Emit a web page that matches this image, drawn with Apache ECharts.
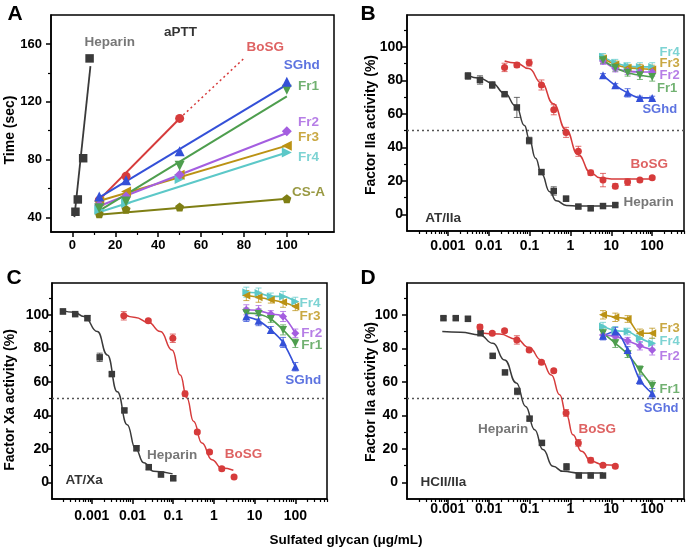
<!DOCTYPE html>
<html><head><meta charset="utf-8">
<script src="https://cdn.jsdelivr.net/npm/echarts@6/dist/echarts.min.js"></script>
<style>html,body{margin:0;padding:0;background:#fff}#c{width:688px;height:549px}</style>
</head><body><div id="c"></div>
<script>
// ---------- Panel A : aPTT ----------
const aConc = [12.5, 25, 50, 100];
const aHepConc = [1.4, 2.5, 5, 8];
const aHepTime = [44, 52.5, 81, 150];
const aBoSGConc = [12.5, 25, 50];
const aBoSGTime = [52, 68.5, 108.5];
const aSGhdTime = [54.5, 65.8, 85.8, 133.8];
const aFr1Time = [46.5, 51, 75.8, 128.4];
const aFr2Time = [48.8, 54.5, 69.6, 99.6];
const aFr3Time = [51.1, 58, 69.6, 89.7];
const aFr4Time = [45.3, 50, 66.6, 85];
const aCSATime = [42.6, 45.8, 47.2, 52.9];
// linear fits (start / end)
const aFitConc = [12, 100];
const aHepFitConc = [0.9, 8.4];
const aHepFit = [40.3, 144.6];
const aBoSGFitConc = [12, 50];
const aBoSGFit = [51.5, 108.5];
const aBoSGExtConc = [50, 80];
const aBoSGExt = [108.5, 150];
const aSGhdFit = [53.4, 131.9];
const aFr1Fit = [44.2, 123.8];
const aFr2Fit = [47.6, 98.4];
const aFr3Fit = [51.2, 89.7];
const aFr4Fit = [43.5, 85];
const aCSAFit = [42, 53];
const aXTicks = [0, 20, 40, 60, 80, 100];
const aYTicks = [40, 80, 120, 160];

// ---------- shared ----------
const fracConc = [6.25, 12.5, 25, 50, 100];
const logTicks = [0.001, 0.01, 0.1, 1, 10, 100];
const pctTicks = [0, 20, 40, 60, 80, 100];

// ---------- Panel B : AT/IIa ----------
const bHepConc = [0.0031,0.0061,0.0122,0.0244,0.0488,0.0977,0.195,0.39,0.78,1.56,3.125,6.25,12.5];
const bHepAct  = [82.6,80.2,77.2,71.7,63.8,44,25.2,13.9,9.3,4.6,3.6,4.9,5.5];
const bHepErr  = [2,2.5,2,1,6,2,1.5,2.5,1.5,1,1.5,1,1];
const bBoSGConc = [0.0244,0.0488,0.0977,0.195,0.39,0.78,1.56,3.125,6.25,12.5,25,50,100];
const bBoSGAct  = [87.7,89.1,90.5,77.2,62.4,48.9,37.6,24.8,20.4,16.8,19.2,20.4,21.8];
const bBoSGErr  = [2.5,1.5,2,3,3,3,3,1.5,4,1.5,2,1,1];
const bSGhdAct = [83,77,72.5,69.5,69.5];
const bFr1Act  = [92,87.5,84.5,83,82];
const bFr2Act  = [91.5,87,85.5,85,85];
const bFr3Act  = [93,89.5,87.5,87,86.5];
const bFr4Act  = [94,90.5,88.5,88,88];
const bSGhdErr = [1,1,2.5,1,1];
const bFrErr   = [2,2,2,2.5,2.5];
const bHepFitConc = [0.0031,0.006,0.0122,0.024,0.047,0.075,0.098,0.14,0.197,0.31,0.45,0.79,1.6,12.6];
const bHepFitAct  = [82.8,81.3,78.3,72.5,64.5,53,45,33.5,24,13.5,8,5.3,4.9,4.9];
const bBoSGFitConc = [0.0245,0.0474,0.096,0.194,0.38,0.776,1.53,3.12,5.2,12.5,100];
const bBoSGFitAct  = [91.5,90.3,87,78.5,66,50.5,35.7,24.8,21.8,21,21];

// ---------- Panel C : AT/Xa ----------
const cHepConc = [0.000195,0.00039,0.00078,0.00156,0.0031,0.0063,0.0125,0.025,0.05,0.1];
const cHepAct  = [102,100.4,98,74.6,64.6,42.9,20.3,9,4.6,2.4];
const cHepErr  = [1.5,1,1.5,2.5,1,1,1.5,1.5,1,1.5];
const cBoSGConc = [0.0061,0.0244,0.0977,0.195,0.39,0.78,1.56,3.125];
const cBoSGAct  = [99.4,96.4,86,52.9,30,18,8,3.2];
const cBoSGErr  = [2.5,1,2.5,1.5,1,1,1,1];
const cSGhdAct = [99,96.5,91,83.5,69];
const cFr1Act  = [101,100.5,97.5,91,83];
const cFr2Act  = [103,102.5,100.5,99,89];
const cFr3Act  = [111.5,110.5,109,107.5,105];
const cFr4Act  = [113.5,113,111,111,108];
const cFrErr   = [3,3,2,3,2.5];
const cHepFitConc = [0.000191,0.000367,0.000644,0.00137,0.0024,0.00422,0.0074,0.0118,0.0189,0.0332,0.0966];
const cHepFitAct  = [102.5,101.5,99,90,76,54,34.4,20,11.6,6.6,5];
const cBoSGFitConc = [0.00593,0.0118,0.0242,0.0484,0.0935,0.149,0.217,0.315,0.506,0.889,1.56,3.0];
const cBoSGFitAct  = [100.5,98.4,95.5,90,79,64,50.3,36.4,23.5,13.5,8.5,7.2];

// ---------- Panel D : HCII/IIa ----------
const dHepConc = [0.00078,0.00156,0.0031,0.0063,0.0125,0.025,0.05,0.1,0.2,0.8,1.6,3.125,6.25];
const dHepAct  = [98,98,97.6,89,75.5,65.6,54.3,38,23.5,9.2,4,4,4];
const dHepErr  = [1,1,1.5,1,1,1,2,1,1,2,1,1,1];
const dBoSGConc = [0.0061,0.0122,0.0244,0.0488,0.0977,0.195,0.39,0.78,1.56,3.125,6.25,12.5];
const dBoSGAct  = [92.7,89,90.5,85,79,71.6,66.6,41.4,23.5,13.1,10.1,9.5];
const dBoSGErr  = [1.5,1,1,2.5,1,1,1,2,2,1.5,1,1];
const dSGhdAct = [87.5,90,79,61,53];
const dFr1Act  = [89,83,76.5,67,57.5];
const dFr2Act  = [88,87,84.5,81.5,79];
const dFr3Act  = [100,98.5,97.5,89,89];
const dFr4Act  = [93,90.5,90,86,83];
const dFrErr   = [2.5,2.5,2,2.5,3];
const dHepFitConc = [0.00073,0.00205,0.006,0.0127,0.0245,0.0474,0.08,0.133,0.212,0.373,0.655,1.68,6.25];
const dHepFitAct  = [90,89.6,88,83,73,59.3,45.3,31.4,19.5,9.5,6.5,5.5,5.5];
const dBoSGFitConc = [0.00575,0.0185,0.0474,0.0964,0.194,0.341,0.544,0.794,1.15,1.85,3.25,6.25,12.8];
const dBoSGFitAct  = [89.3,88.5,85.5,80.5,73,64,52.3,40.5,28.4,18.5,12.5,10.5,10.1];

// ---------- styling ----------
const FONT = '"Liberation Sans", Arial, Helvetica, sans-serif';
const C = {hep:'#3a3a3a', hepTxt:'#555555', bosg:'#d63b3b', sghd:'#3450d8', fr1:'#4e9e4e',
           fr2:'#a45ee0', fr3:'#bb9214', fr4:'#5cc8c8', csa:'#7f7f14'};
const PENT = 'path://M0,-10L9.51,-3.09L5.88,8.09L-5.88,8.09L-9.51,-3.09Z';

const pts = (xs, ys) => xs.map((x, i) => [x, ys[i]]);
function logFmt(v) {
  const e = Math.round(Math.log10(v));
  return e >= 0 ? String(Math.round(Math.pow(10, e))) : '0.' + '0'.repeat(-e - 1) + '1';
}
function mainAxis(gi, type, min, max, pos, majors, fs, margin, fmt) {
  const ax = {type, gridIndex: gi, min, max, position: pos,
    axisLine: {show: true, onZero: false, lineStyle: {color: '#000', width: 1.5}},
    axisTick: {show: true, inside: false, length: 5, customValues: majors, lineStyle: {color: '#000', width: 1.5}},
    axisLabel: {show: true, customValues: majors, margin, color: '#000', fontWeight: 'bold', fontSize: fs, fontFamily: FONT},
    splitLine: {show: false}};
  if (type === 'log') ax.logBase = 10;
  if (fmt) ax.axisLabel.formatter = fmt;
  return ax;
}
function minorAxis(gi, type, min, max, pos, minors) {
  const ax = {type, gridIndex: gi, min, max, position: pos,
    axisLine: {show: false, onZero: false},
    axisTick: {show: true, inside: false, length: 3, customValues: minors, lineStyle: {color: '#000', width: 1.2}},
    axisLabel: {show: false}, splitLine: {show: false}};
  if (type === 'log') ax.logBase = 10;
  return ax;
}
const logMinors = [];
for (let e = -4; e <= 2; e++) for (let m = 2; m <= 9; m++) logMinors.push(+(m * Math.pow(10, e)).toPrecision(3));
const pctMinors = [10, 30, 50, 70, 90, 110];

const LOGMIN = [null, 0.0001, 0.000105, 0.0001];
const xAxes = [
  mainAxis(0, 'value', -10, 122, 'bottom', aXTicks, 13, 7),
  mainAxis(1, 'log', LOGMIN[1], 600, 'bottom', logTicks, 14, 8, logFmt),
  mainAxis(2, 'log', LOGMIN[2], 600, 'bottom', logTicks, 14, 10, logFmt),
  mainAxis(3, 'log', LOGMIN[3], 600, 'bottom', logTicks, 14, 3, logFmt),
  minorAxis(0, 'value', -10, 122, 'bottom', [10, 30, 50, 70, 90, 110]),
  minorAxis(1, 'log', LOGMIN[1], 600, 'bottom', logMinors),
  minorAxis(2, 'log', LOGMIN[2], 600, 'bottom', logMinors),
  minorAxis(3, 'log', LOGMIN[3], 600, 'bottom', logMinors)
];
const yAxes = [
  mainAxis(0, 'value', 30, 180, 'left', aYTicks, 13, 9),
  mainAxis(1, 'value', -10, 119, 'left', pctTicks, 14, 4),
  mainAxis(2, 'value', -10, 119, 'left', pctTicks, 14, 3),
  mainAxis(3, 'value', -10, 119, 'left', pctTicks, 14, 9),
  minorAxis(0, 'value', 30, 180, 'left', [60, 100, 140]),
  minorAxis(1, 'value', -10, 119, 'left', pctMinors),
  minorAxis(2, 'value', -10, 119, 'left', pctMinors),
  minorAxis(3, 'value', -10, 119, 'left', pctMinors)
];

function scatter(gi, xs, ys, sym, size, color, rot, extra) {
  return Object.assign({type: 'scatter', xAxisIndex: gi, yAxisIndex: gi, data: pts(xs, ys), symbol: sym,
    symbolSize: size, symbolRotate: rot || 0, itemStyle: {color, opacity: 1}, z: 6, silent: true}, extra || {});
}
function fit(gi, xs, ys, color, width, smooth, dash) {
  return {type: 'line', xAxisIndex: gi, yAxisIndex: gi, data: pts(xs, ys), showSymbol: false, symbol: 'none',
    smooth: smooth ? 0.5 : false, smoothMonotone: smooth ? 'x' : undefined,
    lineStyle: {color, width, type: dash || 'solid'}, z: 4, silent: true};
}
function frac(gi, ys, sym, size, color, rot) {
  return {type: 'line', xAxisIndex: gi, yAxisIndex: gi, data: pts(fracConc, ys), symbol: sym, symbolSize: size,
    symbolRotate: rot || 0, showSymbol: true, smooth: 0.3, itemStyle: {color}, lineStyle: {color, width: 1.6},
    z: 5, silent: true};
}
function errBars(gi, xs, ys, es, color) {
  return {type: 'custom', xAxisIndex: gi, yAxisIndex: gi, silent: true, z: 3,
    data: xs.map((x, i) => [x, ys[i], es[i]]), encode: {x: 0, y: 1},
    renderItem: (params, api) => {
      const x = api.value(0), y = api.value(1), e = api.value(2);
      const t = api.coord([x, y + e]), b = api.coord([x, y - e]);
      const w = 3, st = {stroke: color, lineWidth: 1, opacity: 0.75};
      return {type: 'group', children: [
        {type: 'line', shape: {x1: t[0], y1: t[1], x2: b[0], y2: b[1]}, style: st},
        {type: 'line', shape: {x1: t[0] - w, y1: t[1], x2: t[0] + w, y2: t[1]}, style: st},
        {type: 'line', shape: {x1: b[0] - w, y1: b[1], x2: b[0] + w, y2: b[1]}, style: st}]};
    }};
}
function labels(gi, list) {
  return {type: 'scatter', xAxisIndex: gi, yAxisIndex: gi, symbolSize: 1, itemStyle: {color: 'rgba(0,0,0,0)'},
    z: 10, silent: true,
    data: list.map(l => ({value: [l[0], l[1]], label: {show: true, position: 'inside', formatter: l[2],
      color: l[3], fontWeight: 'bold', fontSize: l[4] || 13.5, fontFamily: FONT}}))};
}
const mid50 = {silent: true, symbol: ['none', 'none'], label: {show: false},
  lineStyle: {color: '#555', type: [2, 3], width: 1.3}, data: [{yAxis: 50}]};

const series = [];
// Panel A
series.push(
  fit(0, aHepFitConc, aHepFit, C.hep, 1.8),
  fit(0, aBoSGFitConc, aBoSGFit, C.bosg, 2),
  fit(0, aBoSGExtConc, aBoSGExt, C.bosg, 1.5, false, [2, 3]),
  fit(0, aFitConc, aCSAFit, C.csa, 2),
  fit(0, aFitConc, aFr4Fit, C.fr4, 2),
  fit(0, aFitConc, aFr3Fit, C.fr3, 2),
  fit(0, aFitConc, aFr2Fit, C.fr2, 2),
  fit(0, aFitConc, aFr1Fit, C.fr1, 2),
  fit(0, aFitConc, aSGhdFit, C.sghd, 2),
  scatter(0, aHepConc, aHepTime, 'rect', 8.5, C.hep),
  scatter(0, aBoSGConc, aBoSGTime, 'circle', 9, C.bosg),
  scatter(0, aConc, aCSATime, PENT, 9, C.csa),
  scatter(0, aConc, aFr4Time, 'triangle', 10, C.fr4, -90),
  scatter(0, aConc, aFr3Time, 'triangle', 10, C.fr3, 90),
  scatter(0, aConc, aFr2Time, 'diamond', 10, C.fr2),
  scatter(0, aConc, aFr1Time, 'triangle', 10, C.fr1, 180),
  scatter(0, aConc, aSGhdTime, 'triangle', 10, C.sghd),
  labels(0, [[17.4, 161, 'Heparin', C.hepTxt], [50.4, 168, 'aPTT', '#000'], [89.9, 158, 'BoSG', C.bosg],
    [106.9, 145.4, 'SGhd', C.sghd], [110.1, 130.5, 'Fr1', C.fr1], [110.1, 105.6, 'Fr2', C.fr2],
    [110.1, 95.2, 'Fr3', C.fr3], [110.1, 81.7, 'Fr4', C.fr4], [110.1, 57.5, 'CS-A', C.csa]])
);
// Panels B, C, D
function dosePanel(gi, hx, hy, he, bx, by, be, hfx, hfy, bfx, bfy, fr, frErr, sgErr, lab) {
  series.push(
    errBars(gi, hx, hy, he, C.hep), errBars(gi, bx, by, be, C.bosg),
    errBars(gi, fracConc, fr.fr4, frErr, C.fr4), errBars(gi, fracConc, fr.fr3, frErr, C.fr3),
    errBars(gi, fracConc, fr.fr2, frErr, C.fr2), errBars(gi, fracConc, fr.fr1, frErr, C.fr1),
    errBars(gi, fracConc, fr.sghd, sgErr, C.sghd),
    fit(gi, hfx, hfy, C.hep, 1.5, true), fit(gi, bfx, bfy, C.bosg, 1.5, true),
    scatter(gi, hx, hy, 'rect', 6.5, C.hep, 0, {markLine: mid50}),
    scatter(gi, bx, by, 'circle', 7, C.bosg),
    frac(gi, fr.fr4, 'triangle', 8, C.fr4, -90), frac(gi, fr.fr3, 'triangle', 8, C.fr3, 90),
    frac(gi, fr.fr2, 'diamond', 8, C.fr2), frac(gi, fr.fr1, 'triangle', 8, C.fr1, 180),
    frac(gi, fr.sghd, 'triangle', 8, C.sghd),
    labels(gi, lab)
  );
}
dosePanel(1, bHepConc, bHepAct, bHepErr, bBoSGConc, bBoSGAct, bBoSGErr, bHepFitConc, bHepFitAct, bBoSGFitConc, bBoSGFitAct,
  {fr1: bFr1Act, fr2: bFr2Act, fr3: bFr3Act, fr4: bFr4Act, sghd: bSGhdAct}, bFrErr, bSGhdErr,
  [[82, 7.1, 'Heparin', C.hepTxt], [84.5, 30, 'BoSG', C.bosg], [0.000765, -2.7, 'AT/IIa', '#000'],
   [268, 96.9, 'Fr4', C.fr4, 13], [268, 90, 'Fr3', C.fr3, 13], [268, 83.2, 'Fr2', C.fr2, 13],
   [233, 75.3, 'Fr1', C.fr1, 13], [153, 62.4, 'SGhd', C.sghd, 13]]);
dosePanel(2, cHepConc, cHepAct, cHepErr, cBoSGConc, cBoSGAct, cBoSGErr, cHepFitConc, cHepFitAct, cBoSGFitConc, cBoSGFitAct,
  {fr1: cFr1Act, fr2: cFr2Act, fr3: cFr3Act, fr4: cFr4Act, sghd: cSGhdAct}, cFrErr, cFrErr,
  [[0.0935, 16.1, 'Heparin', C.hepTxt], [5.3, 16.5, 'BoSG', C.bosg], [0.000645, 1, 'AT/Xa', '#000'],
   [231, 106.6, 'Fr4', C.fr4], [231, 99.4, 'Fr3', C.fr3], [252, 89.1, 'Fr2', C.fr2],
   [252, 81.7, 'Fr1', C.fr1], [156, 61.2, 'SGhd', C.sghd]]);
dosePanel(3, dHepConc, dHepAct, dHepErr, dBoSGConc, dBoSGAct, dBoSGErr, dHepFitConc, dHepFitAct, dBoSGFitConc, dBoSGFitAct,
  {fr1: dFr1Act, fr2: dFr2Act, fr3: dFr3Act, fr4: dFr4Act, sghd: dSGhdAct}, dFrErr, dFrErr,
  [[0.0225, 31.8, 'Heparin', C.hepTxt], [4.5, 31.8, 'BoSG', C.bosg], [0.000774, 0, 'HCII/IIa', '#000'],
   [268, 91.6, 'Fr3', C.fr3, 13], [268, 84.1, 'Fr4', C.fr4, 13], [268, 75.1, 'Fr2', C.fr2, 13],
   [268, 55.7, 'Fr1', C.fr1, 13], [166, 43.8, 'SGhd', C.sghd, 13]]);

const gridBase = {show: true, borderColor: '#000', borderWidth: 1.5, backgroundColor: 'rgba(0,0,0,0)',
  containLabel: false, outerBoundsMode: 'none'};
const grids = [
  {left: 51, top: 15, width: 283, height: 217},
  {left: 407, top: 15, width: 277, height: 216},
  {left: 52, top: 283, width: 275, height: 216},
  {left: 407, top: 283, width: 277, height: 216}
].map(g => Object.assign({}, gridBase, g));

function txt(x, y, text, size, rot) {
  return {type: 'text', x, y, rotation: rot || 0, silent: true,
    style: {text, font: 'bold ' + size + 'px ' + FONT, fill: '#000', align: 'center', verticalAlign: 'middle'}};
}
const graphics = [
  txt(15, 14, 'A', 21), txt(368, 14, 'B', 21), txt(14, 278, 'C', 21), txt(368, 278, 'D', 21),
  txt(10, 130, 'Time (sec)', 14, Math.PI / 2),
  txt(371, 125, 'Factor IIa activity (%)', 14, Math.PI / 2),
  txt(10, 400, 'Factor Xa activity (%)', 14, Math.PI / 2),
  txt(371, 392, 'Factor IIa activity (%)', 14, Math.PI / 2),
  txt(346, 540, 'Sulfated glycan (\u03bcg/mL)', 13.5)
];

const chart = echarts.init(document.getElementById('c'), null, {renderer: 'canvas'});
chart.setOption({
  animation: false,
  backgroundColor: '#fff',
  grid: grids,
  xAxis: xAxes,
  yAxis: yAxes,
  series,
  graphic: graphics
});
</script></body></html>
